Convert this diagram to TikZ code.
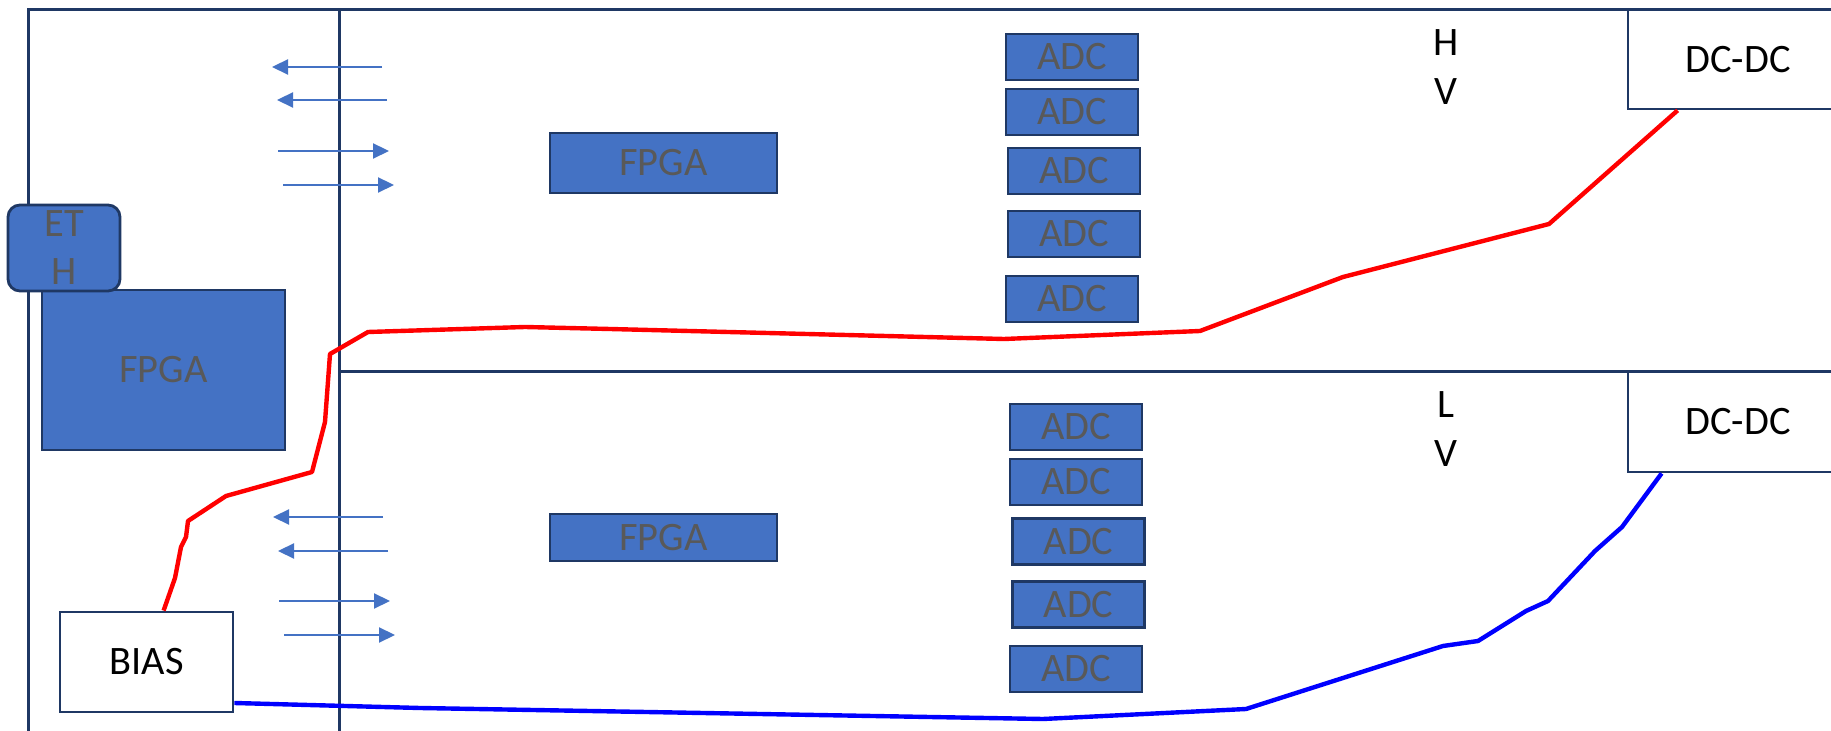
\documentclass[tikz,border=0pt]{standalone}
\usepackage{fontspec}
\setmainfont{Carlito}
\usetikzlibrary{arrows.meta}
\definecolor{navy}{HTML}{1F3864}
\definecolor{chipblue}{HTML}{4472C4}
\definecolor{chiptext}{HTML}{595959}
\definecolor{wirered}{HTML}{FF0000}
\definecolor{wireblue}{HTML}{0000FF}
\begin{document}
\begin{tikzpicture}[x=0.5pt,y=-0.5pt,
  frame/.style={draw=navy,line width=1.5pt},
  boxfont/.style={font=\fontsize{20.2}{24}\selectfont},
  chip/.style={draw=navy,fill=chipblue,line width=1.4pt,text=chiptext,inner sep=0pt,boxfont},
  adc/.style={chip,minimum width=66pt,minimum height=23pt},
  whitebox/.style={draw=navy,fill=white,line width=1.4pt,text=black,inner sep=0pt,boxfont},
  label/.style={text=black,inner sep=0pt,align=center,font=\fontsize{20.2}{24.5}\selectfont},
  link/.style={draw=chipblue,line width=1.1pt,-{Triangle[length=8pt,width=7.5pt]}},
  hvwire/.style={draw=wirered,line width=2.2pt,line join=round},
  lvwire/.style={draw=wireblue,line width=2.2pt,line join=round},
]
\clip (0,0) rectangle (1831,731);
\fill[white] (0,0) rectangle (1831,731);

% crate outline, backplane divider and board separator
\draw[frame] (28,731) -- (28,10) -- (1831,10);
\draw[frame] (339,10) -- (339,731);
\draw[frame] (339,372) -- (1831,372);

% controller card
\node[chip,minimum width=121.5pt,minimum height=80pt] (mainfpga) at (163.5,370) {FPGA};
\node[chip,rounded corners=6pt,minimum width=56pt,minimum height=43pt,align=center] (eth) at (64,248) {ET\\H};
\node[whitebox,minimum width=86.5pt,minimum height=50pt] (bias) at (146.5,662) {BIAS};

% HV board
\node[chip,minimum width=113.5pt,minimum height=30pt] (fpgaA) at (663.5,163) {FPGA};
\node[adc] (adcA1) at (1072,57) {ADC};
\node[adc] (adcA2) at (1072,112) {ADC};
\node[adc] (adcA3) at (1074,171) {ADC};
\node[adc] (adcA4) at (1074,234) {ADC};
\node[adc] (adcA5) at (1072,299) {ADC};
\node[label] (hv) at (1446,67) {H\\V};
\node[whitebox,minimum width=110pt,minimum height=49.5pt] (dcA) at (1738,59.5) {DC-DC};

% LV board
\node[chip,minimum width=113.5pt,minimum height=23.5pt] (fpgaB) at (663.5,537.5) {FPGA};
\node[adc] (adcB1) at (1076,427) {ADC};
\node[adc] (adcB2) at (1076,482) {ADC};
\node[adc] (adcB3) at (1078.5,541.5) {ADC};
\node[adc] (adcB4) at (1078.5,604.5) {ADC};
\node[adc] (adcB5) at (1076,669) {ADC};
\node[label] (lv) at (1446,429) {L\\V};
\node[whitebox,minimum width=110pt,minimum height=50pt] (dcB) at (1738,422) {DC-DC};

% backplane links, upper board
\coordinate (ua1s) at (382,67);  \coordinate (ua1e) at (272,67);
\coordinate (ua2s) at (387,100); \coordinate (ua2e) at (277,100);
\coordinate (ua3s) at (278,151); \coordinate (ua3e) at (389,151);
\coordinate (ua4s) at (283,185); \coordinate (ua4e) at (394,185);
\draw[link] (ua1s) -- (ua1e);
\draw[link] (ua2s) -- (ua2e);
\draw[link] (ua3s) -- (ua3e);
\draw[link] (ua4s) -- (ua4e);

% backplane links, lower board
\coordinate (la1s) at (383,517); \coordinate (la1e) at (273,517);
\coordinate (la2s) at (388,551); \coordinate (la2e) at (278,551);
\coordinate (la3s) at (279,601); \coordinate (la3e) at (390,601);
\coordinate (la4s) at (284,635); \coordinate (la4e) at (395,635);
\draw[link] (la1s) -- (la1e);
\draw[link] (la2s) -- (la2e);
\draw[link] (la3s) -- (la3e);
\draw[link] (la4s) -- (la4e);

% HV supply wire
\draw[hvwire] ([xshift=52.5pt]bias.north west) -- (175,578) -- (181,547) -- (186,537)
  -- (188,521) -- (226,496) -- (312,472) -- (325,422) -- (330,354) -- (368,332)
  -- (525,327) -- (610,329) -- (1004,339) -- (1200,331) -- (1343,277) -- (1549,224)
  -- ([xshift=25.5pt]dcA.south west);

% LV supply wire
\draw[lvwire] ([yshift=-20.5pt]bias.east) -- (420,708) -- (1043,719) -- (1246,709)
  -- (1443,646) -- (1478,641) -- (1526,611) -- (1548,601) -- (1595,551) -- (1622,527)
  -- ([xshift=17.5pt]dcB.south west);
\end{tikzpicture}
\end{document}
